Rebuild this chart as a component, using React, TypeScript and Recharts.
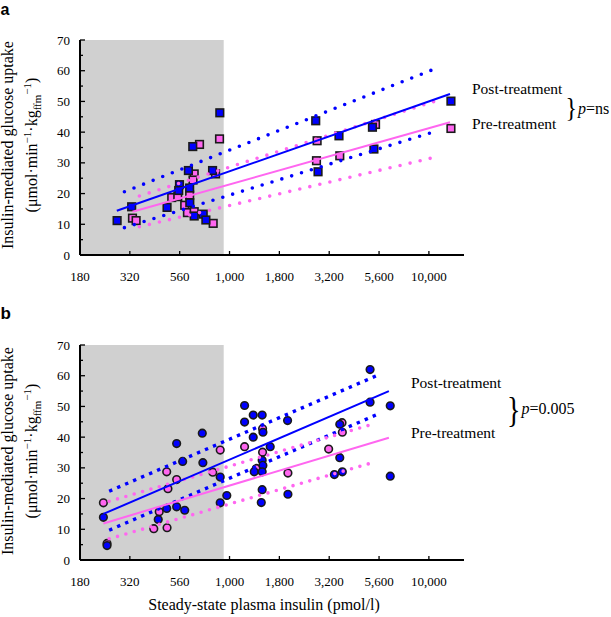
import React from 'react';
import { ComposedChart, Scatter, Line, XAxis, YAxis, ReferenceArea } from 'recharts';

// ---------- tick labels ----------
const xTickValues = [177.83, 316.23, 562.34, 1000, 1778.28, 3162.28, 5623.41, 10000];
const xTickLabels = ['180', '320', '560', '1,000', '1,800', '3,200', '5,600', '10,000'];
const yTickValues = [0, 5, 10, 15, 20, 25, 30, 35, 40, 45, 50, 55, 60, 65, 70];
const xDomain = [177.83, 15000];
const shadeEnd = 935;

// ---------- panel a (squares) ----------
const aPostInsulin = [273, 323, 486, 561, 556, 622, 631, 632, 654, 665, 738, 761, 822, 894, 2706, 2780, 3540, 5210, 5300, 12900];
const aPostUptake = [11.2, 15.7, 15.5, 22.9, 21.0, 27.5, 21.8, 17.0, 35.3, 12.7, 13.3, 11.4, 27.5, 46.3, 43.7, 27.1, 38.8, 41.6, 34.5, 50.1];
const aPreInsulin = [326, 340, 513, 550, 596, 631, 665, 656, 707, 615, 665, 851, 891, 828, 2750, 2730, 3573, 5400, 12900];
const aPreUptake = [12.0, 11.2, 18.7, 19.0, 16.2, 19.5, 26.4, 24.4, 36.0, 13.8, 14.1, 26.4, 37.8, 10.3, 37.2, 30.7, 32.3, 42.5, 41.2];

const aPostFitX = [272, 12760];
const aPostFitY = [14.4, 52.4];
const aPreFitX = [326, 12760];
const aPreFitY = [14.1, 43.2];
const aPostBandX = [297, 10700];
const aPostUpperY = [20.6, 60.6];
const aPostLowerY = [8.9, 40.2];
const aPreBandX = [353, 11000];
const aPreUpperY = [19.2, 50.3];
const aPreLowerY = [9.2, 32.0];

// ---------- panel b (circles) ----------
const bPostInsulin = [233, 243, 439, 484, 543, 543, 582, 596, 730, 735, 898, 898, 969, 1190, 1190, 1315, 1458, 1315, 1471, 1600, 1458, 1470, 1330, 1458, 1458, 1443, 1955, 1963, 3573, 3573, 3357, 3680, 5070, 5070, 6400, 6400];
const bPostUptake = [13.9, 4.7, 13.2, 16.8, 17.3, 37.9, 32.1, 16.2, 41.3, 31.7, 27.0, 18.6, 21.0, 50.3, 44.9, 47.2, 47.2, 40.0, 41.6, 36.9, 32.5, 30.8, 28.7, 28.7, 22.9, 18.7, 45.4, 21.4, 44.2, 33.3, 27.8, 28.7, 62.0, 51.4, 50.2, 27.3];
const bPreInsulin = [233, 243, 417, 444, 486, 484, 491, 543, 824, 898, 1190, 1465, 1465, 1362, 1963, 3142, 3667, 3680];
const bPreUptake = [18.6, 5.4, 10.2, 15.7, 10.5, 28.7, 23.2, 26.2, 28.6, 35.8, 36.9, 42.7, 35.1, 29.8, 28.3, 36.1, 44.7, 41.6];

const bPostFitX = [233, 6300];
const bPostFitY = [15.0, 55.0];
const bPreFitX = [233, 6300];
const bPreFitY = [11.9, 39.8];
const bBandX = [249, 5420];
const bPostUpperY = [22.4, 59.9];
const bPostLowerY = [9.7, 47.2];
const bPreUpperY = [19.1, 44.5];
const bPreLowerY = [6.9, 32.0];

// ---------- styles ----------
const BLUE = '#0000ff';
const PINK = '#ff66f0';
const EDGE = '#1a1a1a';
const SERIF = '"Liberation Serif", "Times New Roman", serif';
const Y_MARGIN = 10;
const X_MARGIN = 17;

const zip = (xs: number[], ys: number[]) => xs.map((x, i) => ({ x, y: ys[i] }));

const XTick = (props: any) => {
  const { x, y, payload } = props;
  const v = payload.value;
  let idx = 0;
  let best = Infinity;
  xTickValues.forEach((t, i) => {
    const d = Math.abs(Math.log(t) - Math.log(v));
    if (d < best) { best = d; idx = i; }
  });
  const ay = y - X_MARGIN;
  return (
    <g>
      {idx > 0 && <line x1={x} x2={x} y1={ay} y2={ay - 4} stroke="#000" strokeWidth={1.3} />}
      <text x={x} y={y} dy="0.71em" textAnchor="middle" fontFamily={SERIF} fontSize={13} fill="#000">
        {xTickLabels[idx]}
      </text>
    </g>
  );
};

const YTick = (props: any) => {
  const { x, y, payload } = props;
  const v = payload.value;
  const major = v % 10 === 0;
  const ax = x + Y_MARGIN;
  return (
    <g>
      {v > 0 && <line x1={ax} x2={ax + (major ? 5 : 3)} y1={y} y2={y} stroke="#000" strokeWidth={1.3} />}
      {major && (
        <text x={x} y={y} dy="0.35em" textAnchor="end" fontFamily={SERIF} fontSize={13} fill="#000">
          {v}
        </text>
      )}
    </g>
  );
};

const squareShape = (color: string) => (p: any) => (
  <rect x={p.cx - 3.8} y={p.cy - 3.8} width={7.6} height={7.6} fill={color} stroke={EDGE} strokeWidth={1.6} />
);
const circleShape = (color: string) => (p: any) => (
  <circle cx={p.cx} cy={p.cy} r={3.8} fill={color} stroke={EDGE} strokeWidth={1.6} />
);

type Pt = { x: number; y: number };
type PanelProps = {
  top: number;
  post: Pt[];
  pre: Pt[];
  postFit: Pt[];
  preFit: Pt[];
  postUpper: Pt[];
  postLower: Pt[];
  preUpper: Pt[];
  preLower: Pt[];
  circles: boolean;
};

const Panel = (p: PanelProps) => {
  const shape = p.circles ? circleShape : squareShape;
  const blueDash = p.circles
    ? { strokeDasharray: '3.4 5.3', strokeLinecap: 'butt' as const, strokeWidth: 3.4 }
    : { strokeDasharray: '0 10.3', strokeLinecap: 'round' as const, strokeWidth: 3.6 };
  const pinkDash = p.circles
    ? { strokeDasharray: '0 8.7', strokeLinecap: 'round' as const, strokeWidth: 3.6 }
    : { strokeDasharray: '0 10.3', strokeLinecap: 'round' as const, strokeWidth: 3.6 };
  return (
    <div style={{ position: 'absolute', left: 0, top: p.top, width: 611, height: 300 }}>
      <ComposedChart width={611} height={300} margin={{ top: 40, right: 147, bottom: 15, left: 50 }}>
        <XAxis
          dataKey="x"
          type="number"
          scale="log"
          domain={xDomain}
          allowDataOverflow
          ticks={xTickValues}
          interval={0}
          tick={<XTick />}
          tickLine={false}
          tickSize={0}
          tickMargin={X_MARGIN}
          height={30}
          axisLine={{ stroke: '#000', strokeWidth: 2 }}
        />
        <YAxis
          dataKey="y"
          type="number"
          domain={[0, 70]}
          allowDataOverflow
          ticks={yTickValues}
          interval={0}
          tick={<YTick />}
          tickLine={false}
          tickSize={0}
          tickMargin={Y_MARGIN}
          width={30}
          axisLine={{ stroke: '#000', strokeWidth: 2 }}
        />
        <ReferenceArea
          x1={xDomain[0]}
          x2={shadeEnd}
          y1={0}
          y2={70}
          fill="#d0d0d0"
          fillOpacity={1}
          stroke="none"
          ifOverflow="hidden"
          zIndex={-50}
        />
        <Scatter data={p.pre} fill={PINK} shape={shape(PINK)} isAnimationActive={false} />
        <Scatter data={p.post} fill={BLUE} shape={shape(BLUE)} isAnimationActive={false} />
        <Line data={p.postUpper} dataKey="y" stroke={BLUE} dot={false} activeDot={false} {...blueDash} isAnimationActive={false} zIndex={700} />
        <Line data={p.postLower} dataKey="y" stroke={BLUE} dot={false} activeDot={false} {...blueDash} isAnimationActive={false} zIndex={700} />
        <Line data={p.preUpper} dataKey="y" stroke={PINK} dot={false} activeDot={false} {...pinkDash} isAnimationActive={false} zIndex={700} />
        <Line data={p.preLower} dataKey="y" stroke={PINK} dot={false} activeDot={false} {...pinkDash} isAnimationActive={false} zIndex={700} />
        <Line data={p.preFit} dataKey="y" stroke={PINK} strokeWidth={2} dot={false} activeDot={false} isAnimationActive={false} zIndex={700} />
        <Line data={p.postFit} dataKey="y" stroke={BLUE} strokeWidth={2} dot={false} activeDot={false} isAnimationActive={false} zIndex={700} />
      </ComposedChart>
    </div>
  );
};

const YTitle = ({ cy }: { cy: number }) => (
  <g fontFamily={SERIF} fill="#000">
    <text transform={`translate(12.5,${cy}) rotate(-90)`} textAnchor="middle" fontSize={16}>
      Insulin-mediated glucose uptake
    </text>
    <text transform={`translate(37,${cy}) rotate(-90)`} textAnchor="middle" fontSize={16}>
      (μmol·min
      <tspan dy={-6} fontSize={11}>−1</tspan>
      <tspan dy={6}>·kg</tspan>
      <tspan dy={4} fontSize={11}>ffm</tspan>
      <tspan dy={-10} fontSize={11}>−1</tspan>
      <tspan dy={6}>)</tspan>
    </text>
  </g>
);

export default function App() {
  return (
    <div style={{ position: 'absolute', left: 0, top: 0, width: 611, height: 617, background: '#fff', overflow: 'hidden' }}>
      <Panel
        top={0}
        post={zip(aPostInsulin, aPostUptake)}
        pre={zip(aPreInsulin, aPreUptake)}
        postFit={zip(aPostFitX, aPostFitY)}
        preFit={zip(aPreFitX, aPreFitY)}
        postUpper={zip(aPostBandX, aPostUpperY)}
        postLower={zip(aPostBandX, aPostLowerY)}
        preUpper={zip(aPreBandX, aPreUpperY)}
        preLower={zip(aPreBandX, aPreLowerY)}
        circles={false}
      />
      <Panel
        top={305}
        post={zip(bPostInsulin, bPostUptake)}
        pre={zip(bPreInsulin, bPreUptake)}
        postFit={zip(bPostFitX, bPostFitY)}
        preFit={zip(bPreFitX, bPreFitY)}
        postUpper={zip(bBandX, bPostUpperY)}
        postLower={zip(bBandX, bPostLowerY)}
        preUpper={zip(bBandX, bPreUpperY)}
        preLower={zip(bBandX, bPreLowerY)}
        circles={true}
      />
      <svg width={611} height={617} style={{ position: 'absolute', left: 0, top: 0, pointerEvents: 'none' }}>
        <text x={0.5} y={14.5} fontFamily='"Liberation Sans", Arial, sans-serif' fontWeight="bold" fontSize={16}>a</text>
        <text x={0.5} y={319} fontFamily='"Liberation Sans", Arial, sans-serif' fontWeight="bold" fontSize={17}>b</text>
        <YTitle cy={145} />
        <YTitle cy={451} />
        <g fontFamily={SERIF} fill="#000">
          <text x={472} y={93.5} fontSize={15.5}>Post-treatment</text>
          <text x={472} y={128.5} fontSize={15.5}>Pre-treatment</text>
          <text transform="translate(565.5,117) scale(1,1.17)" fontSize={24}>{'}'}</text>
          <text x={578} y={113.5} fontSize={16}><tspan fontStyle="italic">p</tspan>=ns</text>
          <text x={411} y={387.5} fontSize={15.5}>Post-treatment</text>
          <text x={411} y={437.5} fontSize={15.5}>Pre-treatment</text>
          <text transform="translate(507,421.6) scale(1,1.3)" fontSize={28}>{'}'}</text>
          <text x={521.5} y={413.5} fontSize={16}><tspan fontStyle="italic">p</tspan>=0.005</text>
          <text x={264} y={610} fontSize={16} textAnchor="middle">Steady-state plasma insulin (pmol/l)</text>
        </g>
      </svg>
    </div>
  );
}
